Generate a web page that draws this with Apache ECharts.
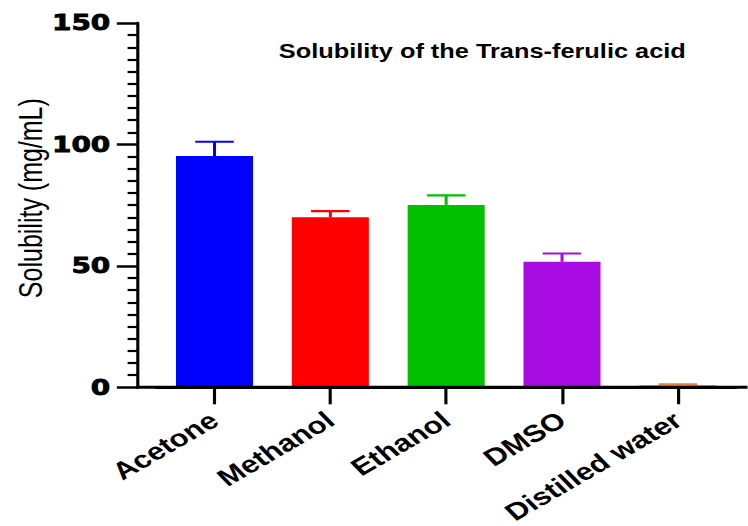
<!DOCTYPE html>
<html>
<head>
<meta charset="utf-8">
<script src="https://cdn.jsdelivr.net/npm/echarts@6/dist/echarts.min.js"></script>
<style>
  html, body { margin: 0; padding: 0; background: #fff; overflow: hidden; }
  #wrap { width: 748px; height: 526px; overflow: hidden; }
  #chart { height: 526px; transform-origin: 0 0; }
</style>
</head>
<body>
<div id="wrap"><div id="chart"></div></div>
<script>
// Solvents tested and measured solubility (mean and SD, mg/mL)
const solvents = ['Acetone', 'Methanol', 'Ethanol', 'DMSO', 'Distilled water'];
const meanSolubility = [95.2, 70.0, 75.1, 51.7, 0.8];
const sdSolubility = [5.9, 2.5, 3.9, 3.4, 0.4];
const barColors = ['#0000FF', '#FF0000', '#00C000', '#A80CE2', '#ED7D31'];
const yTicks = { min: 0, max: 150, step: 50 };

// The figure is drawn with a wide aspect: render narrower, then stretch horizontally.
const STRETCH = 1.3;
const FULL_W = 748;
const W = FULL_W / STRETCH;
const el = document.getElementById('chart');
el.style.width = W + 'px';
el.style.transform = 'scaleX(' + STRETCH + ')';

const chart = echarts.init(el, null, { renderer: 'svg', width: W, height: 526 });

const GRID_LEFT = 120.45;
const GRID_RIGHT = 9.43;
const Y_OFFSET = 14.6;
const AXIS_X = GRID_LEFT - Y_OFFSET;
const BAR_FRAC = 0.665;
const digitFont = 'DejaVu Sans';
const textFont = 'Liberation Sans';

chart.setOption({
  animation: false,
  title: {
    text: 'Solubility of the Trans-ferulic acid',
    left: 366, top: 37, textAlign: 'center',
    textStyle: { fontFamily: textFont, fontWeight: 'bold', fontSize: 19.5, color: '#000' }
  },
  grid: {
    left: GRID_LEFT, right: GRID_RIGHT, top: 23, bottom: 138.7,
    containLabel: false, outerBoundsMode: 'none'
  },
  xAxis: {
    type: 'category',
    data: solvents,
    axisLine: { show: true, lineStyle: { color: '#000', width: 3 } },
    axisTick: { show: true, alignWithLabel: true, length: 17, lineStyle: { color: '#000', width: 2.4 } },
    axisLabel: {
      interval: 0, rotate: 37, margin: 30,
      align: 'right', verticalAlign: 'middle',
      fontFamily: textFont, fontWeight: 'bold', fontSize: 24, color: '#000'
    }
  },
  yAxis: {
    type: 'value',
    min: yTicks.min, max: yTicks.max, interval: yTicks.step,
    offset: Y_OFFSET,
    name: 'Solubility (mg/mL)',
    nameLocation: 'middle', nameRotate: 90, nameGap: 70,
    nameMoveOverlap: false,
    nameTextStyle: { fontFamily: textFont, fontSize: 25, color: '#000', padding: [0, 0, 0, 14] },
    axisLine: { show: true, lineStyle: { color: '#000', width: 2.4 } },
    axisTick: { show: true, length: 16, lineStyle: { color: '#000', width: 2.5 } },
    minorTick: { show: true, splitNumber: 10, length: 7.7, lineStyle: { color: '#000', width: 2.2 } },
    splitLine: { show: false },
    axisLabel: {
      margin: 21, fontFamily: digitFont, fontWeight: 'bold', fontSize: 21.5, color: '#000',
      textBorderColor: '#000', textBorderWidth: 0.8
    }
  },
  series: [
    {
      type: 'bar',
      barWidth: (BAR_FRAC * 100) + '%',
      data: meanSolubility.map((v, i) => ({ value: v, itemStyle: { color: barColors[i] } }))
    },
    {
      type: 'custom',
      z: 3,
      data: meanSolubility.map((v, i) => [i, v, sdSolubility[i]]),
      renderItem: function (params, api) {
        const i = api.value(0);
        const mean = api.value(1);
        const sd = api.value(2);
        const base = api.coord([i, mean]);
        const top = api.coord([i, mean + sd]);
        const half = api.size([1, 0])[0] * BAR_FRAC / 4;
        const color = barColors[params.dataIndex];
        return {
          type: 'group',
          children: [
            { type: 'line', shape: { x1: base[0], y1: base[1], x2: top[0], y2: top[1] },
              style: { stroke: color, lineWidth: 2.3 } },
            { type: 'line', shape: { x1: top[0] - half, y1: top[1], x2: top[0] + half, y2: top[1] },
              style: { stroke: color, lineWidth: 2.2 } }
          ]
        };
      }
    }
  ]
});

// Extend the baseline from the offset value axis to the right edge.
const zeroY = chart.convertToPixel({ yAxisIndex: 0 }, 0);
chart.setOption({
  graphic: [{
    type: 'line', z: 10,
    shape: { x1: AXIS_X - 1.2, y1: zeroY, x2: W, y2: zeroY },
    style: { stroke: '#000', lineWidth: 3 }
  }]
});
</script>
</body>
</html>
